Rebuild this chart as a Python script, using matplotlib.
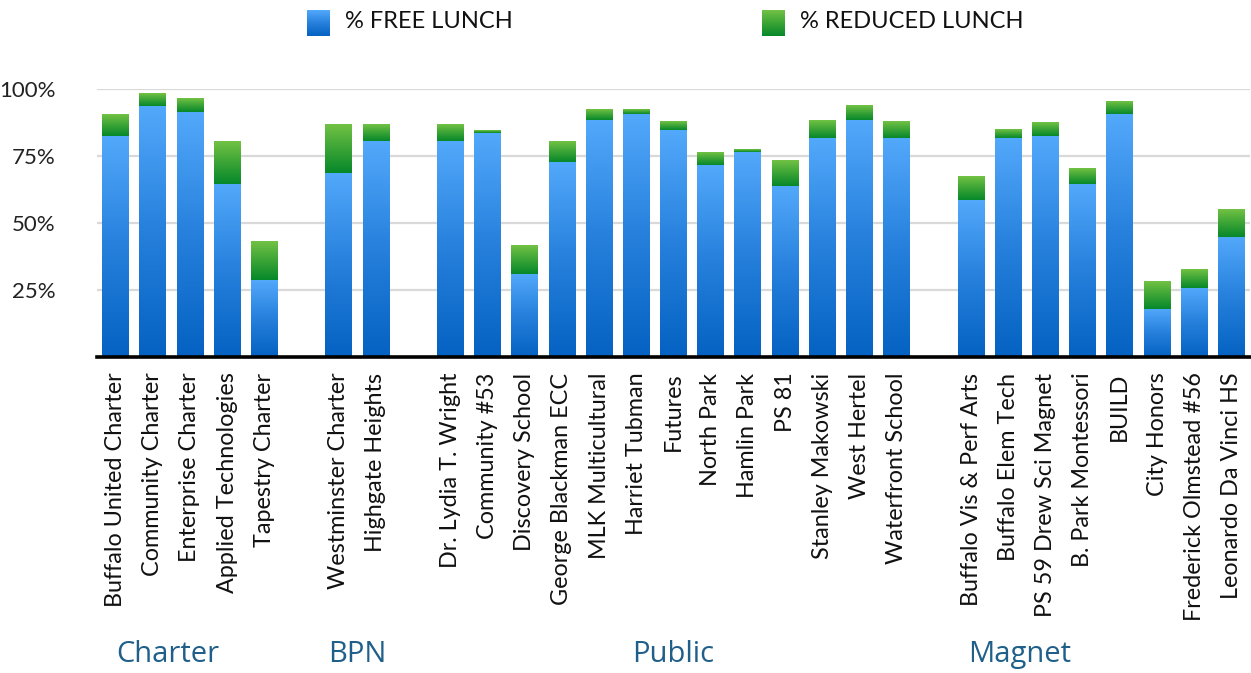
import numpy as np
import matplotlib
matplotlib.use('Agg')
import matplotlib.pyplot as plt
from matplotlib.colors import LinearSegmentedColormap
from matplotlib.transforms import blended_transform_factory

plt.rcParams['font.family'] = ['Lato', 'DejaVu Sans']

# school groups and their % free / % reduced lunch values
charter = ['Buffalo United Charter', 'Community Charter', 'Enterprise Charter',
           'Applied Technologies', 'Tapestry Charter']
charter_free = [82.6, 93.9, 91.5, 64.7, 28.8]
charter_reduced = [8.2, 4.7, 5.2, 16.0, 14.2]

bpn = ['Westminster Charter', 'Highgate Heights']
bpn_free = [68.7, 80.7]
bpn_reduced = [18.0, 6.0]

public = ['Dr. Lydia T. Wright', 'Community #53', 'Discovery School',
          'George Blackman ECC', 'MLK Multicultural', 'Harriet Tubman', 'Futures',
          'North Park', 'Hamlin Park', 'PS 81', 'Stanley Makowski', 'West Hertel',
          'Waterfront School']
public_free = [80.7, 83.7, 31.1, 72.9, 88.5, 90.8, 84.8, 71.8, 76.6, 63.9, 81.8, 88.5, 81.8]
public_reduced = [6.0, 1.1, 10.8, 7.8, 4.1, 1.8, 3.0, 4.8, 1.1, 9.7, 6.7, 5.3, 6.0]

magnet = ['Buffalo Vis & Perf Arts', 'Buffalo Elem Tech', 'PS 59 Drew Sci Magnet',
          'B. Park Montessori', 'BUILD', 'City Honors', 'Frederick Olmstead #56',
          'Leonardo Da Vinci HS']
magnet_free = [58.7, 81.8, 82.6, 64.7, 90.8, 18.0, 25.9, 44.9]
magnet_reduced = [8.9, 3.0, 5.2, 5.9, 4.8, 10.1, 7.0, 10.1]

group_names = ['Charter', 'BPN', 'Public', 'Magnet']
group_label_x = [1.4, 6.5, 15.0, 24.3]

# build x positions with one empty slot between groups
names, free, reduced, pos = [], [], [], []
start = 0
for n, f, r in [(charter, charter_free, charter_reduced), (bpn, bpn_free, bpn_reduced),
                (public, public_free, public_reduced), (magnet, magnet_free, magnet_reduced)]:
    names += n
    free += f
    reduced += r
    pos += list(range(start, start + len(n)))
    start += len(n) + 1

blue_cmap = LinearSegmentedColormap.from_list('b', ['#0562C2', '#2680DC', '#53A9FB'])
green_cmap = LinearSegmentedColormap.from_list('g', ['#06882A', '#3BA436', '#72C244'])
grad = np.linspace(1, 0, 256).reshape(-1, 1)

fig = plt.figure(figsize=(12.51, 6.73), dpi=100)
ax = fig.add_axes([0.0775, 0.4691, 0.9217, 0.3982])

b1 = ax.bar(pos, free, width=0.72, color='none', edgecolor='none')
b2 = ax.bar(pos, reduced, bottom=free, width=0.72, color='none', edgecolor='none')


def fill(bars, cmap):
    for b in bars:
        x0, y0 = b.get_x(), b.get_y()
        ax.imshow(grad, cmap=cmap, aspect='auto', origin='upper', zorder=2,
                  interpolation='bilinear',
                  extent=(x0, x0 + b.get_width(), y0, y0 + b.get_height()))


fill(b1, blue_cmap)
fill(b2, green_cmap)

ax.set_xlim(-0.5, 30.5)
ax.set_ylim(0, 100)
ax.set_yticks([25, 50, 75, 100])
ax.set_yticklabels(['25%', '50%', '75%', '100%'], fontsize=16, color='#222222')
ax.yaxis.grid(True, color='#D9D9D9', lw=1.6, zorder=0)
ax.set_axisbelow(True)
ax.tick_params(axis='y', length=0, pad=30)

ax.set_xticks(pos)
ax.set_xticklabels(names, rotation=90, fontsize=16.8, color='#111111', va='top')
ax.tick_params(axis='x', length=0, pad=11)

for s in ['top', 'left', 'right']:
    ax.spines[s].set_visible(False)
ax.spines['bottom'].set_color('black')
ax.spines['bottom'].set_linewidth(2.6)
ax.spines['bottom'].set_zorder(4)

trans = blended_transform_factory(ax.transData, fig.transFigure)
for g, gx in zip(group_names, group_label_x):
    ax.text(gx, 0.027, g, transform=trans, ha='center', va='center', fontsize=21,
            color='#1F5F8A', family=['Open Sans', 'DejaVu Sans'])

# legend with gradient swatches
for sx, cm, label, tx in [(307, blue_cmap, '% FREE LUNCH', 345),
                          (762, green_cmap, '% REDUCED LUNCH', 800)]:
    sw = fig.add_axes([sx / 1251, (673 - 36) / 673, 23 / 1251, 26 / 673])
    sw.imshow(grad, cmap=cm, aspect='auto', origin='upper')
    sw.axis('off')
    fig.text(tx / 1251, (673 - 22) / 673, label, fontsize=17, va='center',
             ha='left', color='#111111')

fig.savefig('out.png', dpi=100)
